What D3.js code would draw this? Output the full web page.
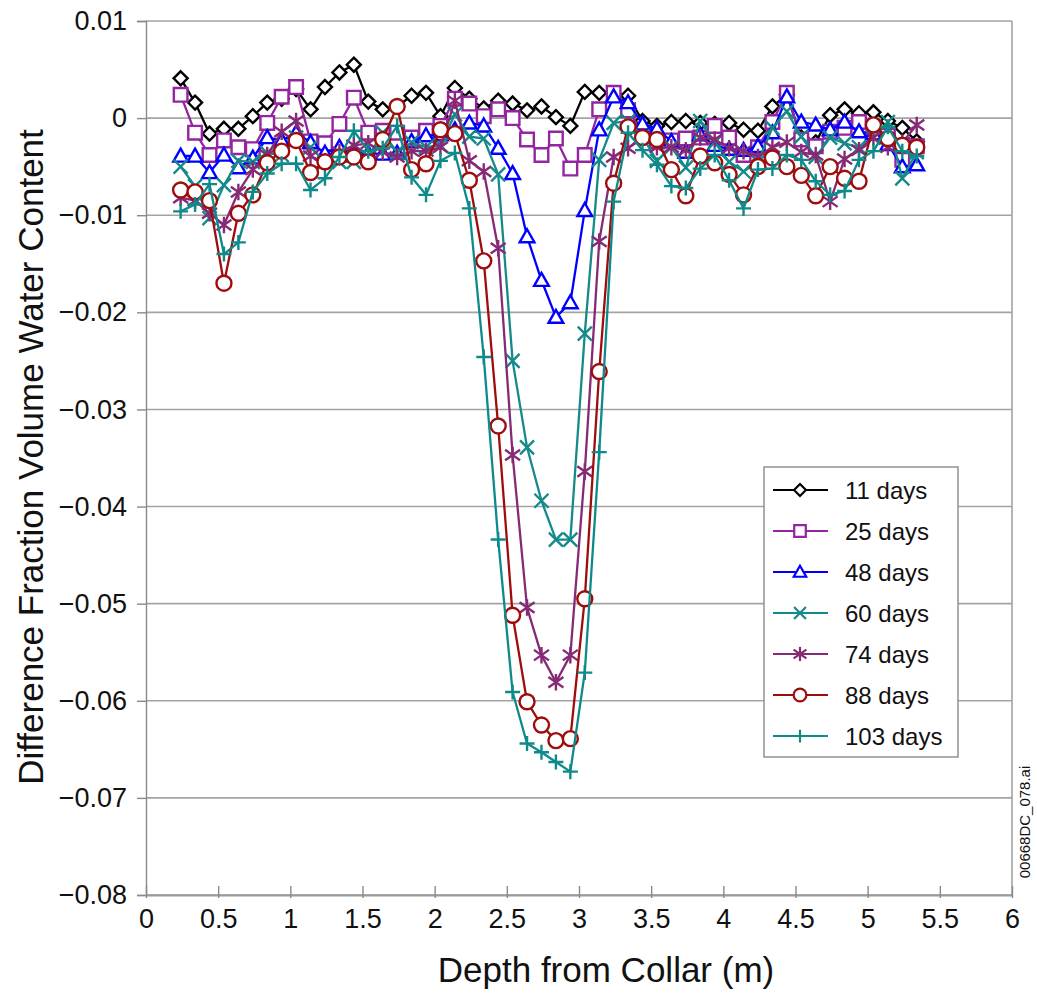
<!DOCTYPE html>
<html>
<head>
<meta charset="utf-8">
<script src="https://cdn.jsdelivr.net/npm/d3@7"></script>
<style>
  html, body { margin: 0; padding: 0; background: #fff; }
  svg { display: block; font-family: "Liberation Sans", Arial, sans-serif; }
</style>
</head>
<body>
<svg id="chart" width="1037" height="996"></svg>
<script>
// Depth of each measurement point along the borehole (m)
const depths = [0.24, 0.34, 0.44, 0.54, 0.64, 0.74, 0.84, 0.94, 1.04, 1.14,
  1.24, 1.34, 1.44, 1.54, 1.64, 1.74, 1.84, 1.94, 2.04, 2.14,
  2.24, 2.34, 2.44, 2.54, 2.64, 2.74, 2.84, 2.94, 3.04, 3.14,
  3.24, 3.34, 3.44, 3.54, 3.64, 3.74, 3.84, 3.94, 4.04, 4.14,
  4.24, 4.34, 4.44, 4.54, 4.64, 4.74, 4.84, 4.94, 5.04, 5.14,
  5.24, 5.34];

// Difference in volumetric water content at each depth, per survey
const days11 = [0.0041, 0.0016, -0.0016, -0.0011, -0.0011, 0.0002, 0.0016, 0.0020, 0.0030, 0.0009,
  0.0032, 0.0047, 0.0055, 0.0017, 0.0009, 0.0012, 0.0023, 0.0026, 0.0002, 0.0031,
  0.0020, 0.0010, 0.0018, 0.0015, 0.0008, 0.0012, 0.0001, -0.0008, 0.0027, 0.0026,
  0.0025, 0.0023, -0.0003, -0.0008, -0.0004, -0.0003, -0.0005, -0.0006, -0.0005, -0.0012,
  -0.0013, 0.0012, 0.0024, -0.0020, -0.0025, 0.0003, 0.0009, 0.0005, 0.0006, -0.0003,
  -0.0010, -0.0024];
const days25 = [0.0024, -0.0015, -0.0038, -0.0023, -0.0030, -0.0032, -0.0005, 0.0022, 0.0032, -0.0024,
  -0.0026, -0.0006, 0.0021, -0.0015, -0.0013, -0.0015, -0.0020, -0.0013, -0.0008, 0.0020,
  0.0015, 0.0002, 0.0009, 0.0000, -0.0022, -0.0038, -0.0021, -0.0052, -0.0038, 0.0009,
  0.0026, 0.0008, -0.0015, -0.0024, -0.0023, -0.0021, -0.0020, -0.0008, -0.0020, -0.0038,
  -0.0030, -0.0004, 0.0026, -0.0022, -0.0029, -0.0014, -0.0010, -0.0004, -0.0010, -0.0018,
  -0.0043, -0.0029];
const days48 = [-0.0039, -0.0039, -0.0056, -0.0038, -0.0051, -0.0041, -0.0020, -0.0023, -0.0015, -0.0025,
  -0.0036, -0.0030, -0.0035, -0.0036, -0.0037, -0.0036, -0.0024, -0.0018, -0.0017, -0.0012,
  -0.0005, -0.0008, -0.0031, -0.0057, -0.0122, -0.0167, -0.0205, -0.0190, -0.0095, -0.0012,
  0.0022, 0.0016, -0.0006, -0.0011, -0.0024, -0.0035, -0.0017, -0.0028, -0.0032, -0.0033,
  -0.0029, -0.0015, 0.0022, -0.0004, -0.0007, -0.0012, -0.0004, -0.0014, -0.0016, -0.0027,
  -0.0050, -0.0048];
const days60 = [-0.0050, -0.0070, -0.0103, -0.0069, -0.0044, -0.0045, -0.0036, -0.0038, -0.0020, -0.0030,
  -0.0045, -0.0045, -0.0045, -0.0040, -0.0015, -0.0035, -0.0025, -0.0030, -0.0028, 0.0004,
  -0.0019, -0.0021, -0.0058, -0.0250, -0.0339, -0.0394, -0.0434, -0.0434, -0.0222, -0.0043,
  -0.0005, -0.0003, -0.0019, -0.0044, -0.0030, -0.0051, -0.0003, -0.0025, -0.0045, -0.0055,
  -0.0045, -0.0010, 0.0007, -0.0019, -0.0040, -0.0020, -0.0026, -0.0030, -0.0020, -0.0004,
  -0.0062, -0.0035];
const days74 = [-0.0082, -0.0085, -0.0098, -0.0110, -0.0076, -0.0053, -0.0038, -0.0014, -0.0003, -0.0039,
  -0.0046, -0.0035, -0.0028, -0.0026, -0.0035, -0.0040, -0.0034, -0.0034, -0.0030, 0.0018,
  -0.0044, -0.0055, -0.0134, -0.0347, -0.0504, -0.0553, -0.0581, -0.0553, -0.0364, -0.0127,
  -0.0040, -0.0031, -0.0019, -0.0030, -0.0030, -0.0033, -0.0020, -0.0022, -0.0031, -0.0034,
  -0.0040, -0.0030, -0.0025, -0.0035, -0.0038, -0.0086, -0.0042, -0.0033, -0.0020, -0.0030,
  -0.0025, -0.0007];
const days88 = [-0.0074, -0.0076, -0.0085, -0.0170, -0.0098, -0.0079, -0.0046, -0.0034, -0.0023, -0.0056,
  -0.0045, -0.0040, -0.0040, -0.0045, -0.0022, 0.0012, -0.0053, -0.0047, -0.0012, -0.0016,
  -0.0064, -0.0147, -0.0317, -0.0512, -0.0601, -0.0625, -0.0641, -0.0639, -0.0495, -0.0261,
  -0.0067, -0.0009, -0.0020, -0.0022, -0.0053, -0.0080, -0.0039, -0.0046, -0.0058, -0.0079,
  -0.0050, -0.0041, -0.0050, -0.0059, -0.0080, -0.0050, -0.0062, -0.0065, -0.0007, -0.0021,
  -0.0028, -0.0030];
const days103 = [-0.0096, -0.0089, -0.0068, -0.0140, -0.0128, -0.0076, -0.0057, -0.0047, -0.0047, -0.0074,
  -0.0062, -0.0040, -0.0013, -0.0034, -0.0031, -0.0008, -0.0061, -0.0079, -0.0044, -0.0036,
  -0.0093, -0.0246, -0.0434, -0.0591, -0.0644, -0.0653, -0.0663, -0.0673, -0.0571, -0.0344,
  -0.0086, -0.0015, -0.0033, -0.0048, -0.0070, -0.0072, -0.0052, -0.0038, -0.0064, -0.0093,
  -0.0053, -0.0052, -0.0038, -0.0043, -0.0065, -0.0079, -0.0075, -0.0043, -0.0034, -0.0009,
  -0.0034, -0.0039];

const seriesNames = ["11 days", "25 days", "48 days", "60 days", "74 days", "88 days", "103 days"];
const seriesValues = [days11, days25, days48, days60, days74, days88, days103];
const seriesColors = ["#000000", "#9424a0", "#0000ff", "#168a8a", "#862a76", "#9e0c0c", "#0f8a8a"];
const seriesMarkers = ["diamond", "square", "triangle", "cross", "asterisk", "circle", "plus"];

const xTicks = [0, 0.5, 1, 1.5, 2, 2.5, 3, 3.5, 4, 4.5, 5, 5.5, 6];
const xTickLabels = ["0", "0.5", "1", "1.5", "2", "2.5", "3", "3.5", "4", "4.5", "5", "5.5", "6"];
const yTicks = [0.01, 0, -0.01, -0.02, -0.03, -0.04, -0.05, -0.06, -0.07, -0.08];
const yTickLabels = ["0.01", "0", "\u22120.01", "\u22120.02", "\u22120.03", "\u22120.04", "\u22120.05", "\u22120.06", "\u22120.07", "\u22120.08"];

const svg = d3.select("#chart");
const plot = { left: 146, right: 1012, top: 21, bottom: 895 };

const x = d3.scaleLinear().domain([0, 6]).range([plot.left, plot.right]);
const y = d3.scaleLinear().domain([-0.08, 0.01]).range([plot.bottom, plot.top]);

// Horizontal grid lines
svg.append("g")
  .selectAll("line")
  .data(yTicks)
  .join("line")
  .attr("x1", plot.left).attr("x2", plot.right)
  .attr("y1", d => y(d)).attr("y2", d => y(d))
  .attr("stroke", "#a3a3a3")
  .attr("stroke-width", 1.6);

// Right frame edge
svg.append("line")
  .attr("x1", plot.right).attr("x2", plot.right)
  .attr("y1", plot.top).attr("y2", plot.bottom)
  .attr("stroke", "#a3a3a3").attr("stroke-width", 1.6);

// Y axis
const yAxis = d3.axisLeft(y)
  .tickValues(yTicks)
  .tickFormat((d, i) => yTickLabels[i])
  .tickSize(9)
  .tickPadding(10);
const gy = svg.append("g").attr("transform", `translate(${plot.left},0)`).call(yAxis);
gy.select(".domain").attr("stroke", "#8a8a8a").attr("stroke-width", 1.4);
gy.selectAll(".tick line").attr("stroke", "#8a8a8a").attr("stroke-width", 1.4);
gy.selectAll(".tick text")
  .attr("font-size", 27)
  .attr("font-family", "Liberation Sans, Arial, sans-serif")
  .attr("fill", "#111");

// X axis (ticks straddle the baseline)
const xAxis = d3.axisBottom(x)
  .tickValues(xTicks)
  .tickFormat((d, i) => xTickLabels[i])
  .tickSizeInner(-9)
  .tickSizeOuter(0)
  .tickPadding(14);
const gx = svg.append("g").attr("transform", `translate(0,${plot.bottom})`).call(xAxis);
gx.select(".domain").attr("stroke", "#9a9a9a").attr("stroke-width", 2);
gx.selectAll(".tick line").attr("stroke", "#8a8a8a").attr("stroke-width", 1.4).attr("y2", -9).attr("y1", 3);
gx.selectAll(".tick text")
  .attr("font-size", 27)
  .attr("font-family", "Liberation Sans, Arial, sans-serif")
  .attr("fill", "#111");

// Axis titles
svg.append("text")
  .attr("x", 606)
  .attr("y", 982)
  .attr("text-anchor", "middle")
  .attr("font-size", 35)
  .attr("fill", "#111")
  .text("Depth from Collar (m)");

svg.append("text")
  .attr("transform", "translate(43,457) rotate(-90)")
  .attr("text-anchor", "middle")
  .attr("font-size", 35)
  .attr("fill", "#111")
  .text("Difference Fraction Volume Water Content");

// Figure file tag on the right margin
svg.append("text")
  .attr("transform", "translate(1030,822) rotate(-90)")
  .attr("text-anchor", "middle")
  .attr("font-size", 15)
  .attr("fill", "#111")
  .text("00668DC_078.ai");

// Marker shapes
function markerPath(type, s) {
  switch (type) {
    case "diamond": return `M0,${-s}L${s},0L0,${s}L${-s},0Z`;
    case "square": return `M${-s},${-s}H${s}V${s}H${-s}Z`;
    case "triangle": return `M0,${-s * 1.05}L${s * 1.05},${s * 0.8}L${-s * 1.05},${s * 0.8}Z`;
    case "cross": return `M${-s},${-s}L${s},${s}M${-s},${s}L${s},${-s}`;
    case "asterisk": return `M0,${-s * 1.1}V${s * 1.1}M${-s},${-s * 0.7}L${s},${s * 0.7}M${-s},${s * 0.7}L${s},${-s * 0.7}`;
    case "circle": return `M${-s},0A${s},${s} 0 1,0 ${s},0A${s},${s} 0 1,0 ${-s},0Z`;
    case "plus": return `M${-s},0H${s}M0,${-s}V${s}`;
  }
}
const markerSize = { diamond: 7, square: 6.8, triangle: 7, cross: 7, asterisk: 7.5, circle: 7.5, plus: 7.5 };
const filled = { diamond: true, square: true, triangle: true, circle: true, cross: false, asterisk: false, plus: false };

const line = d3.line().x(d => x(d.depth)).y(d => y(d.v));

const seriesG = svg.append("g");
seriesValues.forEach((vals, k) => {
  const pts = depths.map((d, i) => ({ depth: d, v: vals[i] }));
  const g = seriesG.append("g");
  g.append("path")
    .attr("d", line(pts))
    .attr("fill", "none")
    .attr("stroke", seriesColors[k])
    .attr("stroke-width", 2.3)
    .attr("stroke-linejoin", "round");
  const m = seriesMarkers[k];
  g.selectAll("path.mk")
    .data(pts)
    .join("path")
    .attr("class", "mk")
    .attr("transform", d => `translate(${x(d.depth)},${y(d.v)})`)
    .attr("d", markerPath(m, markerSize[m]))
    .attr("fill", filled[m] ? "#fff" : "none")
    .attr("stroke", seriesColors[k])
    .attr("stroke-width", 2.4);
});

// Legend
const legend = { x: 764, y: 467, w: 194, h: 290 };
const lg = svg.append("g");
lg.append("rect")
  .attr("x", legend.x).attr("y", legend.y)
  .attr("width", legend.w).attr("height", legend.h)
  .attr("fill", "#fff")
  .attr("stroke", "#8a8a8a")
  .attr("stroke-width", 1.4);
seriesNames.forEach((name, k) => {
  const cy = 490 + k * 41;
  const row = lg.append("g").attr("transform", `translate(0,${cy})`);
  row.append("line")
    .attr("x1", 773).attr("x2", 828)
    .attr("stroke", seriesColors[k]).attr("stroke-width", 2.2);
  const m = seriesMarkers[k];
  row.append("path")
    .attr("transform", "translate(800,0)")
    .attr("d", markerPath(m, markerSize[m] * 0.85))
    .attr("fill", filled[m] ? "#fff" : "none")
    .attr("stroke", seriesColors[k])
    .attr("stroke-width", 2.2);
  row.append("text")
    .attr("x", 845).attr("y", 9)
    .attr("font-size", 24)
    .attr("fill", "#111")
    .text(name);
});
</script>
</body>
</html>
